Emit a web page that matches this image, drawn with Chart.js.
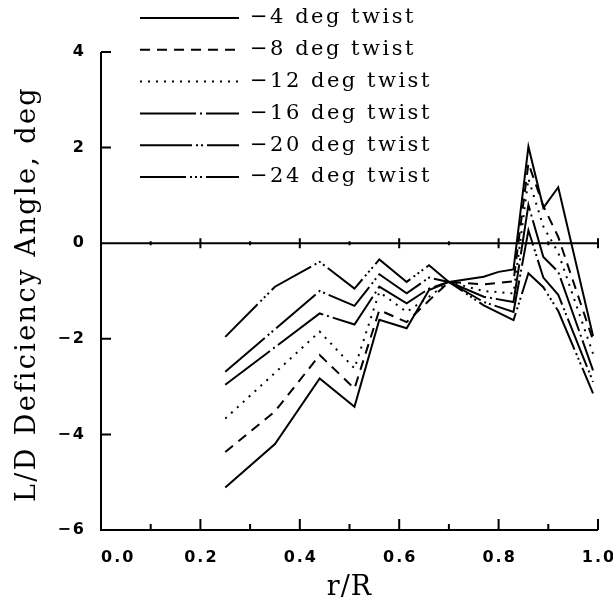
<!DOCTYPE html>
<html>
<head>
<meta charset="utf-8">
<script src="https://cdn.jsdelivr.net/npm/chart.js@4.4.0/dist/chart.umd.min.js"></script>
<style>
  body { margin: 0; background: #fff; }
  canvas { display: block; }
</style>
</head>
<body>
<canvas id="myChart" width="613" height="599"></canvas>
<script>
// r/R stations
var radius = [0.25, 0.35, 0.44, 0.51, 0.56, 0.615, 0.66, 0.70, 0.77, 0.80, 0.83, 0.86, 0.89, 0.92, 0.95, 0.99];

// L/D deficiency angle, deg (null = no point at that station)
var twist4  = [-5.11, -4.20, -2.83, -3.42, -1.60, -1.78, -0.98, -0.81, -0.70, -0.60, -0.55, 2.02, 0.74, 1.17, null, -1.94];
var twist8  = [-4.37, -3.52, -2.34, -3.04, -1.40, -1.65, -1.20, -0.81, -0.86, null, -0.80, 1.67, 0.78, 0.13, null, -2.03];
var twist12 = [-3.67, null, -1.85, -2.62, -1.02, -1.44, -1.12, -0.81, -1.00, null, -1.05, 1.35, 0.35, -0.20, null, -2.31];
var twist16 = [-2.96, null, -1.47, -1.70, -0.91, -1.26, -0.95, -0.81, -1.12, null, -1.23, 0.80, -0.29, -0.60, null, -2.66];
var twist20 = [-2.69, null, -1.00, -1.31, -0.65, -1.05, -0.72, -0.81, -1.23, null, -1.44, 0.27, -0.72, -1.08, null, -2.90];
var twist24 = [-1.96, -0.91, -0.39, -0.95, -0.34, -0.81, -0.46, -0.81, -1.30, null, -1.61, -0.63, -0.92, -1.42, null, -3.14];

var seriesNames = ['\u22124 deg twist', '\u22128 deg twist', '\u221212 deg twist', '\u221216 deg twist', '\u221220 deg twist', '\u221224 deg twist'];
var seriesValues = [twist4, twist8, twist12, twist16, twist20, twist24];
var dashes = [
    [],
    [10, 7],
    [2, 6],
    [56, 4, 2, 4],
    [52, 4, 2, 3, 2, 4],
    [46, 4, 2, 3, 2, 3, 2, 4]
];

var xTicks = [0, 0.2, 0.4, 0.6, 0.8, 1.0];
var xTickLabels = ['0.0', '0.2', '0.4', '0.6', '0.8', '1.0'];
var xMinor = [0.1, 0.3, 0.5, 0.7, 0.9];
var yTicks = [4, 2, 0, -2, -4, -6];
var yTickLabels = ['4', '2', '0', '\u22122', '\u22124', '\u22126'];

var datasets = seriesValues.map(function(vals, i){
    return {
        label: seriesNames[i],
        data: radius.map(function(r, j){ return {x: r, y: vals[j]}; }),
        borderColor: '#000',
        borderWidth: 2,
        borderDash: dashes[i],
        borderCapStyle: 'butt',
        pointRadius: 0,
        tension: 0,
        spanGaps: true,
        fill: false
    };
});

// axes, ticks, zero line, labels and legend
var decor = {
    id: 'decor',
    afterDraw: function(chart){
        var ctx = chart.ctx, a = chart.chartArea;
        var x = chart.scales.x, y = chart.scales.y;
        ctx.save();
        ctx.strokeStyle = '#000';
        ctx.fillStyle = '#000';
        ctx.lineWidth = 2;
        ctx.setLineDash([]);
        ctx.beginPath();
        ctx.moveTo(a.left, a.top);
        ctx.lineTo(a.left, a.bottom);
        ctx.lineTo(a.right, a.bottom);
        yTicks.forEach(function(v){
            var p = y.getPixelForValue(v);
            ctx.moveTo(a.left, p); ctx.lineTo(a.left + 10, p);
        });
        var z = y.getPixelForValue(0);
        ctx.moveTo(a.left, z); ctx.lineTo(a.right, z);
        xTicks.forEach(function(v){
            var p = x.getPixelForValue(v);
            ctx.moveTo(p, a.bottom); ctx.lineTo(p, a.bottom - 11);
            ctx.moveTo(p, z - 5); ctx.lineTo(p, z + 5);
        });
        xMinor.forEach(function(v){
            var p = x.getPixelForValue(v);
            ctx.moveTo(p, a.bottom); ctx.lineTo(p, a.bottom - 6);
            ctx.moveTo(p, z - 2); ctx.lineTo(p, z + 2);
        });
        ctx.stroke();

        // tick labels
        ctx.font = 'bold 16px "DejaVu Sans"';
        ctx.letterSpacing = '2px';
        ctx.textBaseline = 'middle';
        ctx.textAlign = 'right';
        yTicks.forEach(function(v, i){
            ctx.fillText(yTickLabels[i], a.left - 15, y.getPixelForValue(v));
        });
        xTicks.forEach(function(v, i){
            var p = x.getPixelForValue(v);
            ctx.textAlign = i === 0 ? 'left' : 'center';
            ctx.fillText(xTickLabels[i], i === 0 ? p : p + 1, a.bottom + 28);
        });

        // axis titles
        ctx.font = '27px "DejaVu Serif"';
        ctx.letterSpacing = '1px';
        ctx.textAlign = 'center';
        ctx.fillText('r/R', (a.left + a.right) / 2, a.bottom + 58);
        ctx.save();
        ctx.translate(28, 294);
        ctx.rotate(-Math.PI / 2);
        ctx.letterSpacing = '2.4px';
        ctx.fillText('L/D Deficiency Angle, deg', 0, 0);
        ctx.restore();

        // legend
        ctx.font = '21px "DejaVu Serif"';
        ctx.letterSpacing = '2.5px';
        ctx.textAlign = 'left';
        chart.data.datasets.forEach(function(ds, i){
            var ly = 18 + i * 31.8;
            ctx.setLineDash(ds.borderDash);
            ctx.beginPath();
            ctx.moveTo(140, ly); ctx.lineTo(239, ly);
            ctx.stroke();
            ctx.setLineDash([]);
            ctx.fillText(ds.label, 250, ly);
        });
        ctx.restore();
    }
};

var ctx = document.getElementById('myChart').getContext('2d');
var chart = new Chart(ctx, {
    type: 'line',
    data: { datasets: datasets },
    options: {
        responsive: false,
        animation: false,
        layout: { padding: { left: 101, right: 15, top: 52, bottom: 69 } },
        plugins: { legend: { display: false }, tooltip: { enabled: false } },
        scales: {
            x: { type: 'linear', min: 0, max: 1, display: false },
            y: { type: 'linear', min: -6, max: 4, display: false }
        }
    },
    plugins: [decor]
});
</script>
</body>
</html>
